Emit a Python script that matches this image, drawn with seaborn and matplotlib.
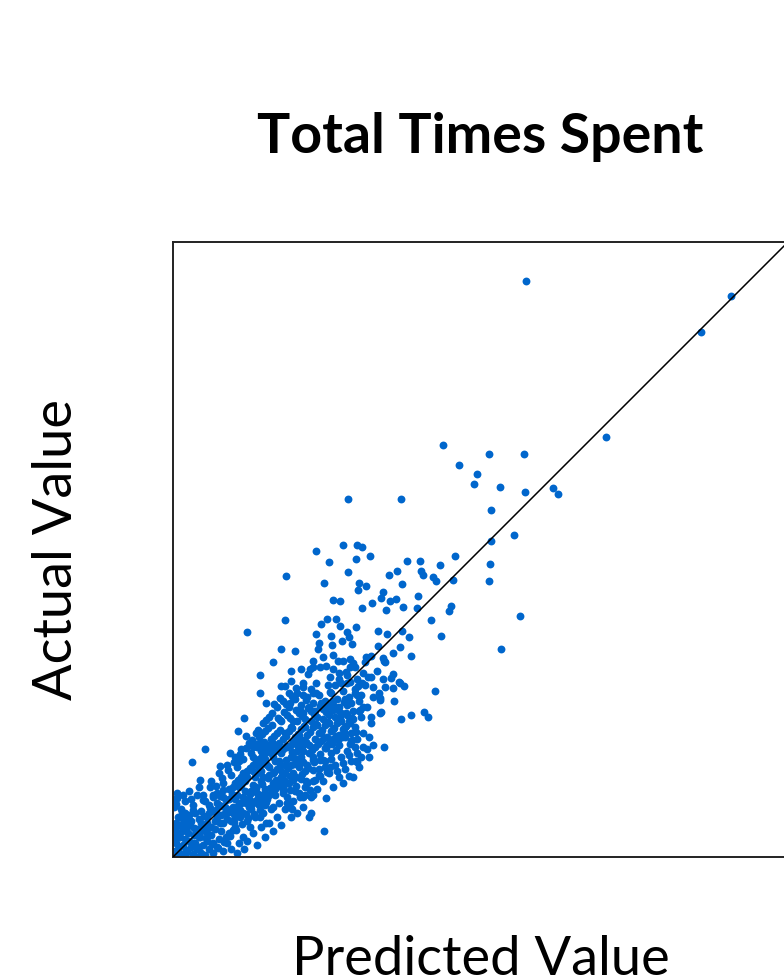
import pandas as pd
import seaborn as sns
import matplotlib.pyplot as plt

# values; no ticks, so units are arbitrary (0..615 both axes)
# each pair is (predicted, actual)
outliers = [
    (353, 576), (558, 561), (528, 525), (433, 420), (270, 412), (316, 403),
    (351, 403), (286, 392), (304, 383), (301, 373), (327, 370), (352, 365),
    (380, 369), (385, 363), (175, 358), (228, 358), (318, 347), (341, 322),
    (318, 316), (347, 241), (328, 208),
]

upper_cloud = [
    (170, 312), (184, 312), (189, 310), (143, 306), (197, 301), (183, 298),
    (156, 295), (234, 296), (247, 296), (282, 301), (267, 292), (175, 285),
    (224, 286), (216, 282), (248, 286), (250, 282), (260, 280), (263, 276),
    (280, 277), (316, 276), (317, 293), (113, 281), (151, 274), (186, 274),
    (193, 271), (185, 267), (229, 273), (210, 265), (208, 259), (217, 256),
    (223, 258), (245, 261), (160, 257), (167, 256), (199, 254), (189, 249),
    (213, 247), (230, 250), (244, 249), (278, 251), (276, 246), (258, 237),
    (112, 237), (74, 225), (148, 233), (154, 238), (163, 238), (167, 231),
    (183, 230), (143, 223), (158, 221), (174, 225), (176, 220), (205, 226),
    (214, 223), (229, 226), (236, 220), (268, 221), (146, 214), (159, 212),
    (169, 216), (179, 213), (108, 208), (122, 206), (145, 208), (205, 211),
    (227, 210), (220, 204), (238, 201), (100, 195), (165, 196), (177, 198),
    (180, 194), (193, 200), (198, 201), (192, 195), (211, 196), (210, 199),
    (212, 195), (118, 186), (128, 188), (137, 188), (140, 190), (147, 190),
    (153, 191), (160, 188), (166, 184), (157, 180), (135, 183), (177, 190),
    (182, 190), (173, 185), (195, 180), (220, 183), (218, 179), (87, 182),
    (226, 175),
]

mid_cloud = [
    (108, 171), (112, 171), (123, 169), (130, 174), (143, 174), (155, 172),
    (157, 165), (168, 174), (177, 175), (185, 171), (189, 174), (182, 164),
    (220, 169), (227, 174), (231, 171), (262, 166), (87, 164), (120, 160),
    (130, 162), (140, 164), (200, 160), (207, 159), (207, 157), (221, 156),
    (208, 145), (228, 138), (238, 142), (251, 145), (255, 140), (211, 110),
    (93, 154), (71, 139), (65, 126), (73, 121), (83, 124), (32, 108),
    (19, 95), (57, 104), (47, 91), (66, 96), (4, 59), (99, 144), (99, 132),
    (107, 137), (117, 154), (127, 147), (133, 157), (143, 164), (153, 154),
    (160, 147), (167, 140), (173, 144), (177, 134), (207, 144), (198, 140),
    (187, 147), (183, 96), (176, 81), (179, 117), (169, 120), (163, 107),
    (152, 109), (147, 97), (157, 90), (140, 87), (147, 81), (133, 76),
    (140, 62), (153, 59), (138, 44), (151, 26), (130, 60), (117, 50),
    (110, 67), (123, 80), (120, 100), (127, 117), (87, 114), (80, 100),
    (90, 94), (100, 84), (83, 70), (70, 84), (60, 70), (50, 67), (37, 70),
    (27, 77), (40, 60), (30, 57), (20, 47), (13, 40), (73, 54), (90, 57),
    (100, 50), (87, 40), (93, 34), (77, 30), (67, 40), (60, 27), (53, 20),
    (40, 14), (70, 20), (71, 8), (47, 34), (33, 27), (27, 20), (20, 14),
    (13, 7), (7, 20), (3, 34), (10, 27), (17, 34), (184, 95), (154, 85),
    (142, 77), (134, 74), (137, 67), (127, 60), (132, 62), (119, 48),
    (114, 54), (120, 77), (114, 74), (110, 64), (117, 67), (130, 95),
    (140, 97), (150, 97),
]

core = [
    (2, 2), (5, 8), (8, 3), (3, 14), (10, 12), (14, 5), (18, 10), (6, 20),
    (12, 18), (20, 3), (24, 8), (16, 16), (22, 14), (28, 4), (30, 12),
    (26, 20), (9, 26), (15, 24), (21, 22), (2, 28), (5, 40), (10, 34),
    (14, 30), (32, 2), (36, 8), (40, 4), (34, 16), (38, 22), (44, 10),
    (46, 18), (42, 28), (30, 30), (24, 28), (18, 36), (26, 38), (34, 34),
    (50, 6), (54, 14), (48, 26), (56, 24), (36, 44), (44, 40), (50, 34),
    (28, 46), (20, 52), (8, 48), (12, 56), (1, 50), (4, 64), (58, 36),
    (62, 30), (60, 44), (52, 50), (44, 54), (40, 62), (32, 56), (24, 62),
    (16, 66), (66, 14), (64, 4), (58, 8),
    (40, 46), (46, 52), (52, 44), (56, 58), (60, 50), (64, 62), (68, 54),
    (72, 66), (76, 58), (80, 72), (84, 64), (88, 76), (92, 68), (96, 82),
    (100, 74), (104, 88), (108, 80), (62, 40), (70, 44), (78, 48), (86, 52),
    (94, 58), (102, 62), (110, 70), (74, 36), (82, 40), (90, 44), (98, 48),
    (106, 54), (114, 60), (50, 60), (56, 68), (62, 74), (68, 80), (74, 86),
    (80, 92), (86, 98), (92, 104), (98, 110), (44, 64), (50, 74), (58, 82),
    (64, 90), (70, 98), (78, 104), (84, 110), (36, 52), (30, 62), (26, 70),
    (38, 76), (46, 84), (54, 92), (62, 100), (68, 108), (76, 114), (116, 74),
    (120, 84), (112, 92), (118, 100), (106, 96), (100, 100), (94, 92),
    (88, 86), (82, 80), (122, 66), (128, 78), (126, 90), (132, 86),
]

core_fill = [
    (62, 58), (66, 70), (72, 76), (78, 66), (84, 84), (90, 80), (96, 90),
    (102, 96), (108, 104), (114, 110), (120, 116), (126, 122), (132, 130),
    (138, 136), (144, 132), (150, 138), (156, 134), (162, 140), (168, 136),
    (174, 142), (180, 138), (186, 146), (106, 114), (112, 124), (118, 130),
    (124, 136), (130, 144), (136, 150), (142, 146), (148, 154), (154, 150),
    (160, 156), (166, 150), (172, 158), (178, 154), (184, 162), (190, 150),
    (92, 98), (98, 104), (86, 90), (80, 86), (74, 80), (68, 72), (112, 84),
    (118, 92), (124, 98), (130, 106), (136, 112), (142, 118), (148, 124),
    (154, 120), (160, 128), (166, 122), (172, 130), (178, 124), (184, 118),
    (190, 124), (140, 76), (146, 82), (152, 90), (158, 98), (164, 86),
    (170, 94), (176, 102), (182, 110), (188, 100), (194, 108), (34, 40),
    (38, 30), (42, 36), (48, 42), (54, 38), (58, 48), (64, 46), (66, 54),
    (70, 60), (76, 50), (82, 56), (88, 62), (92, 52), (96, 62), (102, 68),
    (108, 74), (8, 40), (6, 32), (12, 44), (16, 42), (22, 44), (18, 58),
    (10, 62), (2, 58), (6, 10), (1, 20), (0, 6), (4, 24), (26, 10), (24, 0),
    (12, 0), (34, 24), (28, 34),
]

band_fill = [
    (89, 123), (95, 129), (101, 121), (107, 127), (113, 121), (119, 129),
    (125, 123), (131, 131), (137, 125), (143, 133), (149, 127), (155, 135),
    (161, 129), (167, 137), (173, 131), (179, 139), (93, 137), (105, 139),
    (111, 145), (117, 139), (123, 147), (129, 141), (135, 149), (141, 143),
    (147, 151), (153, 145), (159, 153), (165, 147), (171, 155), (101, 153),
    (107, 159), (113, 153), (119, 161), (83, 113), (91, 109), (99, 115),
    (105, 109), (113, 111), (121, 115), (127, 109), (133, 115), (139, 107),
    (145, 113), (151, 119), (157, 115), (163, 121),
    (65, 51), (71, 57), (77, 63), (83, 69), (89, 73), (95, 79), (101, 85),
    (107, 91), (113, 97), (119, 105), (125, 111), (131, 117), (59, 63),
    (65, 77), (71, 83), (77, 89), (83, 95), (89, 101), (95, 107), (101, 111),
    (53, 57), (47, 61), (43, 71), (49, 79), (55, 87), (61, 95), (67, 103),
    (73, 109), (79, 117), (85, 127), (91, 115), (123, 71), (129, 83),
    (135, 89), (141, 95), (147, 103), (153, 109), (159, 113), (165, 117),
    (171, 125), (177, 113), (183, 125), (117, 81), (111, 77), (105, 71),
    (99, 65), (93, 55), (87, 47), (81, 43), (75, 39), (69, 33), (63, 27),
    (57, 21), (51, 15), (45, 9), (39, 13), (33, 19), (27, 25), (21, 29),
    (15, 37), (9, 45), (3, 53), (31, 41), (37, 49), (43, 47), (49, 51),
    (55, 45), (61, 35), (67, 47), (73, 43), (79, 53), (85, 59), (91, 63),
    (97, 69), (103, 77), (109, 85), (115, 89), (121, 93), (127, 95),
]

upper_band = [
    (86, 120), (92, 126), (98, 118), (104, 124), (110, 118), (116, 126),
    (122, 120), (128, 128), (134, 122), (140, 130), (146, 124), (152, 132),
    (158, 126), (164, 134), (170, 128), (176, 136), (182, 130), (188, 140),
    (90, 134), (96, 140), (108, 136), (114, 142), (120, 136), (126, 144),
    (132, 138), (138, 146), (144, 140), (150, 148), (156, 142), (162, 150),
    (168, 144), (174, 152), (180, 146), (186, 156), (104, 150), (110, 156),
    (116, 150), (122, 158), (128, 152), (134, 160), (140, 154), (146, 162),
    (152, 156), (158, 164), (164, 158), (170, 166), (176, 160), (182, 168),
    (188, 162), (80, 110), (88, 106), (96, 112), (102, 106), (110, 108),
    (118, 112), (124, 106), (130, 112), (136, 104), (142, 110), (148, 116),
    (154, 112), (160, 118), (166, 112), (172, 120), (178, 116), (124, 164),
    (130, 170), (138, 168), (116, 164), (162, 172), (174, 174), (184, 178),
    (192, 172), (194, 150), (198, 134), (196, 120), (118, 176), (166, 178),
    (174, 182), (190, 184), (198, 180), (204, 186), (210, 178), (200, 170),
    (206, 164), (212, 170), (140, 196), (150, 200), (160, 202), (170, 196),
]

lower_band = [
    (120, 56), (126, 64), (132, 70), (138, 60), (144, 68), (150, 76),
    (156, 84), (162, 92), (168, 100), (174, 106), (146, 88), (152, 96),
    (158, 104), (134, 92), (140, 100), (128, 100), (160, 70), (166, 80),
    (172, 88), (178, 96), (184, 104), (190, 110), (130, 50), (136, 40),
    (124, 44), (118, 40), (112, 48), (104, 40), (96, 34), (88, 30), (80, 24),
    (74, 16), (84, 12), (92, 20), (100, 26), (108, 32), (196, 100),
    (200, 112), (186, 90), (180, 80), (170, 74),
]

groups = [outliers, upper_cloud, mid_cloud, core, core_fill, band_fill,
          upper_band, lower_band]
rows = [p for g in groups for p in g]
df = pd.DataFrame(rows, columns=["Predicted", "Actual"])

sns.set_style("white")
plt.rcParams["font.family"] = ["Lato", "DejaVu Sans"]
plt.rcParams["text.color"] = "black"
plt.rcParams["axes.labelcolor"] = "black"

fig = plt.figure(figsize=(7.84, 9.75), dpi=100)
ax = fig.add_axes([173 / 784, 118 / 975, 615 / 784, 615 / 975])

sns.scatterplot(data=df, x="Predicted", y="Actual", ax=ax, s=32,
                color="#0066cc", linewidth=0, zorder=2)
ax.plot([0, 615], [0, 615], color="black", lw=1.1, zorder=3)

ax.set_xlim(0, 615)
ax.set_ylim(0, 615)
ax.set_xticks([])
ax.set_yticks([])
for sp in ax.spines.values():
    sp.set_color("#222222")
    sp.set_linewidth(1.4)

ax.set_title("Total Times Spent", fontsize=40, fontweight="bold", pad=64,
             color="black")
ax.set_xlabel("Predicted Value", fontsize=39, labelpad=56)
ax.set_ylabel("Actual Value", fontsize=39, labelpad=66)

fig.savefig("out.png", dpi=100)
